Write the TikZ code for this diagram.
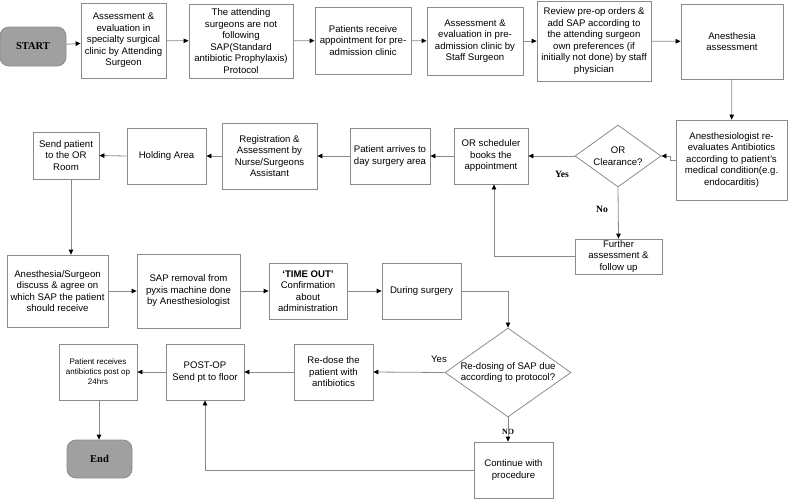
\documentclass[tikz,border=0pt]{standalone}
\usepackage{fontspec}
\setmainfont{Liberation Sans}
\newfontfamily\serifb{Liberation Serif}
\usetikzlibrary{arrows.meta,shapes.geometric}
\definecolor{bordergray}{HTML}{8C8C8C}
\definecolor{linegray}{HTML}{8A8A8A}
\definecolor{termfill}{HTML}{A0A0A0}
\tikzset{
  box/.style={draw=bordergray, line width=0.8pt, fill=white, align=center, inner sep=1pt,
    font=\fontsize{9.6}{11.5}\selectfont},
  term/.style={draw=bordergray, fill=termfill, rounded corners=9pt, line width=0.8pt,
    font=\serifb\bfseries\fontsize{10.5}{12}\selectfont},
  decision/.style={diamond, aspect=1.4, draw=bordergray, line width=0.8pt, align=center, inner sep=0pt,
    font=\fontsize{9.6}{11.5}\selectfont},
  arr/.style={draw=linegray, line width=0.8pt, -{Triangle[length=5pt,width=4.5pt,color=black]}},
  lbl/.style={font=\serifb\bfseries\fontsize{9.6}{11}\selectfont, inner sep=0pt},
}
\begin{document}
\begin{tikzpicture}[x=1pt,y=-1pt]
\useasboundingbox (0,0) rectangle (789,499);
% row 1
\node[term, minimum width=66pt, minimum height=39pt] (start) at (33,46.5) {START};
\node[box, minimum width=85pt, minimum height=75pt] (b1) at (123.5,40.5) {Assessment \&\\evaluation in\\specialty surgical\\clinic by Attending\\Surgeon};
\node[box, minimum width=104pt, minimum height=74pt] (b2) at (241,41) {The attending\\surgeons are not\\following\\SAP(Standard\\antibiotic Prophylaxis)\\Protocol};
\node[box, minimum width=96pt, minimum height=67pt] (b3) at (363,40.5) {Patients receive\\appointment for pre-\\admission clinic};
\node[box, minimum width=96pt, minimum height=68pt] (b4) at (475,41) {Assessment \&\\evaluation in pre-\\admission clinic by\\Staff Surgeon};
\node[box, minimum width=114pt, minimum height=80pt] (b5) at (594,41) {Review pre-op orders \&\\add SAP according to\\the attending surgeon\\own preferences (if\\initially not done) by staff\\physician};
\node[box, minimum width=102pt, minimum height=75pt] (b6) at (732,41.5) {Anesthesia\\assessment};
% row 2
\node[box, minimum width=111pt, minimum height=80pt] (b7) at (731.5,160) {Anesthesiologist re-\\evaluates Antibiotics\\according to patient’s\\medical condition(e.g.\\endocarditis)};
\node[decision, minimum width=86pt, minimum height=62pt] (d1) at (618,156) {OR\\Clearance?};
\node[box, minimum width=74pt, minimum height=56pt] (b8) at (491,156) {OR scheduler\\books the\\appointment};
\node[box, minimum width=87pt, minimum height=35pt] (b9) at (618.5,256.5) {Further\\assessment \&\\follow up};
\node[box, minimum width=80pt, minimum height=56pt] (b10) at (390,156) {Patient arrives to\\day surgery area};
\node[box, minimum width=95pt, minimum height=66pt] (b11) at (269.5,156) {Registration \&\\Assessment by\\Nurse/Surgeons\\Assistant};
\node[box, minimum width=79pt, minimum height=56pt] (b12) at (166.5,156) {Holding Area};
\node[box, minimum width=66pt, minimum height=47pt] (b13) at (66,155.5) {Send patient\\to the OR\\Room};
% row 3
\node[box, minimum width=101pt, minimum height=72pt] (b14) at (57.5,291) {Anesthesia/Surgeon\\discuss \& agree on\\which SAP the patient\\should receive};
\node[box, minimum width=103pt, minimum height=74pt] (b15) at (188.5,291) {SAP removal from\\pyxis machine done\\by Anesthesiologist};
\node[box, minimum width=78pt, minimum height=56pt] (b16) at (308,291) {\textbf{‘TIME OUT’}\\Confirmation\\about\\administration};
\node[box, minimum width=79pt, minimum height=56pt] (b17) at (421.5,291) {During surgery};
\node[decision, minimum width=126pt, minimum height=89pt] (d2) at (508,372.5) {Re-dosing of SAP due\\according to protocol?};
% row 4
\node[box, minimum width=79pt, minimum height=56pt] (b18) at (513.5,470) {Continue with\\procedure};
\node[box, minimum width=79pt, minimum height=56pt] (b19) at (333.5,372) {Re-dose the\\patient with\\antibiotics};
\node[box, minimum width=78pt, minimum height=56pt] (b20) at (205,372) {POST-OP\\Send pt to floor};
\node[box, minimum width=78pt, minimum height=56pt, font=\fontsize{8}{10}\selectfont] (b21) at (98,372) {Patient receives\\antibiotics post op\\24hrs};
\node[term, minimum width=65pt, minimum height=38pt] (end) at (99.5,459) {End};
% labels
\node[lbl] (yes1) at (562,174) {Yes};
\node[lbl] (no1) at (602,209) {No};
\node[font=\fontsize{9.6}{11}\selectfont, inner sep=0pt] (yes2) at (439,359) {Yes};
\node[lbl, font=\serifb\bfseries\fontsize{8}{9}\selectfont] (no2) at (508,432) {NO};
% connectors
\draw[arr] (start) -- (b1);
\draw[arr] (b1) -- (b2);
\draw[arr] (b2) -- (b3);
\draw[arr] (b3) -- (b4);
\draw[arr] (b4) -- (b5);
\draw[arr] (b5) -- (b6);
\draw[arr] (b6) -- (b7);
\draw[arr] (b7.west) -- ++(-5,0) |- (d1.east);
\draw[arr] (d1.west) -- (b8.east);
\draw[arr] (d1.south) -- (b9.north);
\draw[arr] (b9.west) -| ([xshift=3pt]b8.south);
\draw[arr] (b8.west) -- (b10.east);
\draw[arr] (b10.west) -- (b11.east);
\draw[arr] (b11.west) -- (b12.east);
\draw[arr] (b12.west) -- (b13.east);
\draw[arr] ([xshift=5pt]b13.south) -- ([xshift=5pt]b13.south |- b14.north);
\draw[arr] (b14) -- (b15);
\draw[arr] (b15) -- (b16);
\draw[arr] (b16) -- (b17);
\draw[arr] (b17.east) -| (d2.north);
\draw[arr] (d2.west) -- (b19.east);
\draw[arr] (d2.south) -- (d2.south |- b18.north);
\draw[arr] (b18.west) -| (b20.south);
\draw[arr] (b19.west) -- (b20.east);
\draw[arr] (b20.west) -- (b21.east);
\draw[arr] ([xshift=1pt]b21.south) -- ([xshift=1pt]b21.south |- end.north);
\end{tikzpicture}
\end{document}
